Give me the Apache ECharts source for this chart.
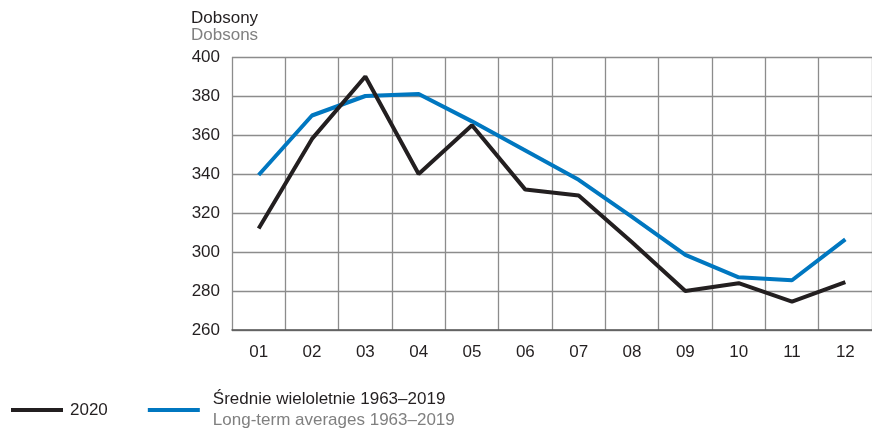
<!DOCTYPE html>
<html>
<head>
<meta charset="utf-8">
<script src="https://cdn.jsdelivr.net/npm/echarts@6/dist/echarts.min.js"></script>
<style>
  html, body { margin: 0; padding: 0; background: #fff; }
  #chart { width: 872px; height: 429px; }
</style>
</head>
<body>
<div id="chart"></div>
<script>
// dane
const months = ['01', '02', '03', '04', '05', '06', '07', '08', '09', '10', '11', '12'];
const values2020 = [312, 358, 390, 340, 365, 332, 329, 305, 280, 284, 274.5, 284.5];
const valuesAvg = [339.5, 370, 380, 381, 367, 352, 337, 318, 298.5, 287, 285.5, 306.5];
const yTicks = { min: 260, max: 400, interval: 20 };

const font = 'Liberation Sans, Arial, sans-serif';
const black = '#231f20';
const blue = '#0077c0';
const grey = '#808080';
const gridColor = '#8c8c8c';

var myChart = echarts.init(document.getElementById('chart'));

var option = {
    animation: false,
    textStyle: { fontFamily: font },
    title: {
        left: 191,
        top: 10,
        text: 'Dobsony',
        subtext: 'Dobsons',
        itemGap: 0,
        padding: 0,
        textStyle: { fontSize: 17, fontWeight: 'normal', color: black, fontFamily: font },
        subtextStyle: { fontSize: 17, color: grey, fontFamily: font }
    },
    legend: {
        left: 11,
        top: 391,
        padding: 0,
        itemWidth: 52,
        itemHeight: 4,
        itemGap: 40,
        icon: 'rect',
        data: [
            { name: '2020', textStyle: { padding: [0, 0, 0, 2] } },
            { name: 'avg', textStyle: { padding: [0, 0, 0, 8] } }
        ],
        textStyle: {
            fontSize: 17,
            color: black,
            rich: {
                a: { fontSize: 17, color: black, lineHeight: 21 },
                b: { fontSize: 17, color: grey, lineHeight: 21 }
            }
        },
        formatter: function (name) {
            if (name === 'avg') {
                return '{a|Średnie wieloletnie 1963–2019}\n{b|Long-term averages 1963–2019}';
            }
            return name;
        }
    },
    grid: {
        left: 232,
        top: 57,
        width: 646,
        height: 273
    },
    xAxis: {
        type: 'category',
        data: months,
        boundaryGap: true,
        axisLine: { show: true, lineStyle: { color: '#555', width: 1.5 } },
        axisTick: { show: false },
        axisLabel: { interval: 0, margin: 14, fontSize: 17, color: black },
        splitLine: { show: true, interval: 0, lineStyle: { color: gridColor, width: 1.3 } }
    },
    yAxis: {
        type: 'value',
        min: yTicks.min,
        max: yTicks.max,
        interval: yTicks.interval,
        axisLine: { show: false },
        axisTick: { show: false },
        axisLabel: { margin: 12, fontSize: 17, color: black },
        splitLine: { show: true, lineStyle: { color: gridColor, width: 1.3 } }
    },
    series: [
        {
            name: 'avg',
            type: 'line',
            data: valuesAvg,
            symbol: 'none',
            lineStyle: { color: blue, width: 4 },
            itemStyle: { color: blue }
        },
        {
            name: '2020',
            type: 'line',
            data: values2020,
            symbol: 'none',
            lineStyle: { color: black, width: 4 },
            itemStyle: { color: black }
        }
    ]
};

myChart.setOption(option);
</script>
</body>
</html>
